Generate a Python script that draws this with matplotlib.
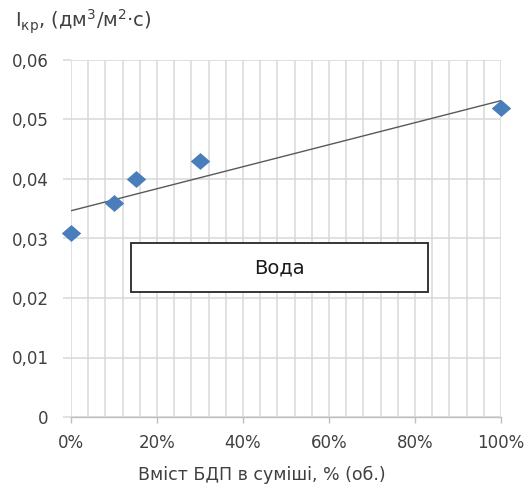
import numpy as np
import matplotlib
matplotlib.use("Agg")
import matplotlib.pyplot as plt
from matplotlib.ticker import MultipleLocator, FuncFormatter, FixedLocator
from matplotlib.patches import Rectangle

plt.rcParams['font.family'] = ['DejaVu Sans']
plt.rcParams['mathtext.fontset'] = 'dejavusans'

content = [0.0, 0.10, 0.15, 0.30, 1.00]
flux = [0.031, 0.036, 0.040, 0.043, 0.052]
x_ticks = [0.0, 0.2, 0.4, 0.6, 0.8, 1.0]
y_ticks = [0.0, 0.01, 0.02, 0.03, 0.04, 0.05, 0.06]
box_label = "Вода"
x_title = "Вміст БДП в суміші, % (об.)"
y_title = r"I$_{\mathregular{кр}}$, (дм$^{\mathregular{3}}$/м$^{\mathregular{2}}$·с)"

fig = plt.figure(figsize=(5.3, 4.9), dpi=100)
ax = fig.add_axes([71/530, 1-417/490, 430/530, 357/490])

txt = '#404040'
grid_c = '#D9D9D9'

ax.set_xlim(0, 1.0)
ax.set_ylim(0, 0.06)
ax.xaxis.set_major_locator(FixedLocator(x_ticks))
ax.xaxis.set_minor_locator(MultipleLocator(0.04))
ax.yaxis.set_major_locator(FixedLocator(y_ticks))
ax.xaxis.set_major_formatter(FuncFormatter(lambda v, p: f"{v*100:.0f}%"))
ax.yaxis.set_major_formatter(FuncFormatter(lambda v, p: "0" if v == 0 else f"{v:.2f}".replace('.', ',')))

ax.grid(True, which='both', axis='x', color=grid_c, lw=1.1, zorder=0)
ax.grid(True, which='major', axis='y', color=grid_c, lw=1.1, zorder=0)
ax.set_axisbelow(True)

for s in ['left', 'right', 'top']:
    ax.spines[s].set_visible(False)
ax.spines['bottom'].set_color('#BFBFBF')
ax.spines['bottom'].set_linewidth(1.0)

ax.tick_params(axis='x', which='major', length=4, color='#BFBFBF', width=1.0,
               pad=8, labelsize=12, labelcolor=txt)
ax.tick_params(axis='x', which='minor', length=0)
ax.tick_params(axis='y', which='major', length=6, color=grid_c, width=1.1,
               pad=10, labelsize=12, labelcolor=txt)

# data
diamond = [(0, 1), (1.15, 0), (0, -1), (-1.15, 0), (0, 1)]
ax.plot(content, flux, linestyle='none', marker=diamond, markersize=14,
        color='#4A7EBB', markeredgewidth=0, zorder=4, clip_on=False)

# linear trendline
k, b = np.polyfit(content, flux, 1)
xs = np.array([0.0, 1.0])
ax.plot(xs, k*xs + b, color='#595959', lw=1.0, zorder=3)

# box
ax.add_patch(Rectangle((0.14, 0.35), 0.69, 0.137, transform=ax.transAxes,
                       facecolor='white', edgecolor='#262626', lw=1.3, zorder=5))
ax.text(0.485, 0.418, box_label, transform=ax.transAxes, ha='center', va='center',
        fontsize=14, color='#1a1a1a', zorder=6)

fig.text(262/530, 1-475/490, x_title, ha='center', va='center', fontsize=12.5, color=txt)
fig.text(15/530, 1-22/490, y_title, ha='left', va='center', fontsize=14, color=txt)

fig.savefig('out.png', dpi=100)
